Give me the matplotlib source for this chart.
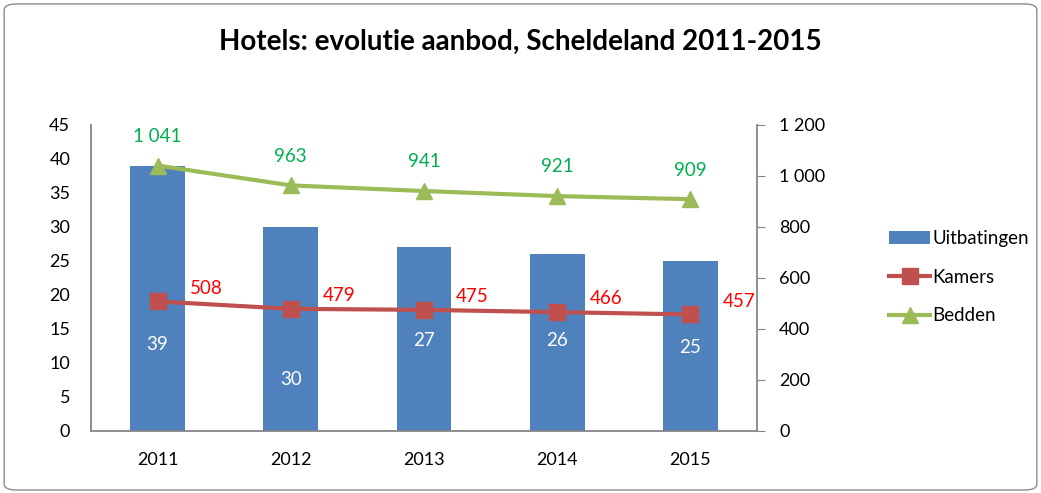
import matplotlib.pyplot as plt
from matplotlib.patches import FancyBboxPatch
import numpy as np

plt.rcParams['font.family'] = ['Lato', 'DejaVu Sans']

years = ['2011', '2012', '2013', '2014', '2015']
uitbatingen = [39, 30, 27, 26, 25]
kamers = [508, 479, 475, 466, 457]
bedden = [1041, 963, 941, 921, 909]

# where the white bar labels sit (left-axis units), as placed in the original
bar_label_y = [12.7, 7.6, 13.3, 13.3, 12.3]


def fmt(v):
    return '{:,}'.format(int(v)).replace(',', ' ')


fig = plt.figure(figsize=(10.41, 4.93), dpi=100)
fig.patches.append(FancyBboxPatch((0.004, 0.006), 0.992, 0.986,
                                  boxstyle='round,pad=0,rounding_size=0.012',
                                  transform=fig.transFigure, fill=False,
                                  edgecolor='#8c8c8c', linewidth=1.0))

ax = fig.add_axes([0.0874, 0.1258, 0.6398, 0.6207])
ax2 = ax.twinx()

x = np.arange(len(years))
bars = ax.bar(x, uitbatingen, width=0.41, color='#4F81BD', label='Uitbatingen', zorder=2)
for i, v in enumerate(uitbatingen):
    ax.text(x[i], bar_label_y[i], str(v), color='white', ha='center', va='center', fontsize=13.5)

l1, = ax2.plot(x, kamers, color='#C0504D', lw=3, marker='s', ms=11, label='Kamers')
l2, = ax2.plot(x, bedden, color='#9BBB59', lw=3, marker='^', ms=12, label='Bedden')
for i in range(len(years)):
    ax2.annotate(fmt(kamers[i]), (x[i], kamers[i]), xytext=(35, 9.5), textcoords='offset points',
                 color='#FF0000', ha='center', va='center', fontsize=13.5)
    ax2.annotate(fmt(bedden[i]), (x[i], bedden[i]), xytext=(0, 21), textcoords='offset points',
                 color='#00B050', ha='center', va='center', fontsize=13.5)

ax.set_xlim(-0.5, 4.5)
ax.set_ylim(0, 45)
ax.set_yticks(range(0, 46, 5))
ax2.set_ylim(0, 1200)
ax2.set_yticks(range(0, 1201, 200))
ax2.set_yticklabels([fmt(v) for v in range(0, 1201, 200)])
ax.set_xticks(x)
ax.set_xticklabels(years)

for a in (ax, ax2):
    for s in a.spines.values():
        s.set_color('#868686')
        s.set_linewidth(1.3)
    a.spines['top'].set_visible(False)
ax.spines['right'].set_visible(False)
ax2.spines['left'].set_visible(False)
ax2.spines['bottom'].set_visible(False)
ax.tick_params(axis='y', length=0, labelsize=13, pad=15)
ax.tick_params(axis='x', length=0, labelsize=13, pad=15)
ax2.tick_params(axis='y', length=6, color='#868686', labelsize=13, pad=10)

fig.text(0.5, 0.915, 'Hotels: evolutie aanbod, Scheldeland 2011-2015', ha='center', va='center',
         fontsize=20, fontweight='bold')

fig.legend([bars, l1, l2], ['Uitbatingen', 'Kamers', 'Bedden'], loc='center left',
           bbox_to_anchor=(0.838, 0.438), frameon=False, fontsize=13.5,
           handlelength=2.2, handletextpad=0.1, labelspacing=1.15)

fig.savefig('out.png', dpi=100)
